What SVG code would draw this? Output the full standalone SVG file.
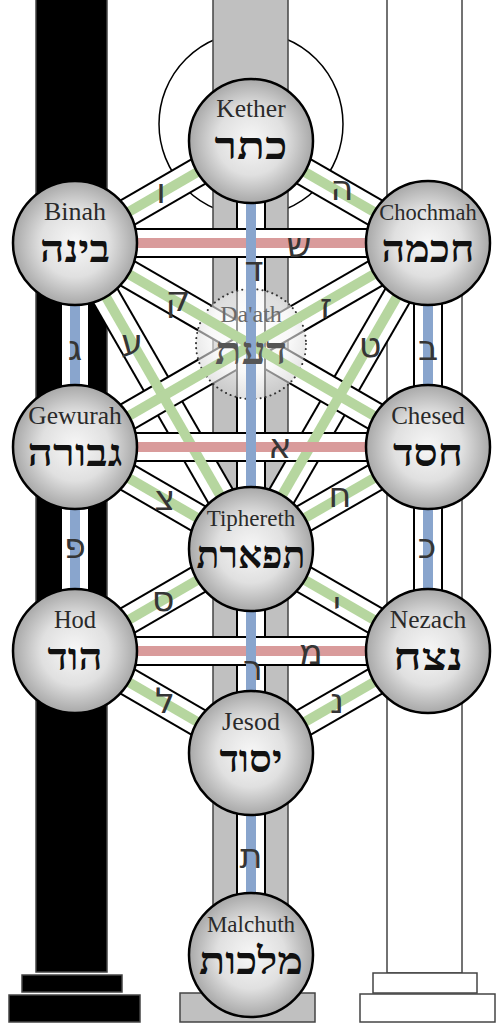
<svg xmlns="http://www.w3.org/2000/svg" width="502" height="1024" viewBox="0 0 502 1024">
<defs>
<radialGradient id="sph" cx="50%" cy="50%" r="50%">
<stop offset="0" stop-color="#f7f7f7"/>
<stop offset="0.55" stop-color="#e0e0e0"/>
<stop offset="1" stop-color="#a8a8a8"/>
</radialGradient>
<radialGradient id="dth" cx="50%" cy="40%" r="60%">
<stop offset="0" stop-color="#fff"/>
<stop offset="0.6" stop-color="#f4f4f4"/>
<stop offset="1" stop-color="#cfcfcf"/>
</radialGradient>
<line id="l-kb" x1="251" y1="141" x2="75" y2="243"/>
<line id="l-kc" x1="251" y1="141" x2="428" y2="243"/>
<line id="l-bt" x1="75" y1="243" x2="251" y2="549"/>
<line id="l-ct" x1="428" y1="243" x2="251" y2="549"/>
<line id="l-bch" x1="75" y1="243" x2="428" y2="447"/>
<line id="l-cg" x1="428" y1="243" x2="75" y2="447"/>
<line id="l-gt" x1="75" y1="447" x2="251" y2="549"/>
<line id="l-cht" x1="428" y1="447" x2="251" y2="549"/>
<line id="l-th" x1="251" y1="549" x2="75" y2="651"/>
<line id="l-tn" x1="251" y1="549" x2="428" y2="651"/>
<line id="l-hj" x1="75" y1="651" x2="251" y2="753"/>
<line id="l-nj" x1="428" y1="651" x2="251" y2="753"/>
<line id="l-bg" x1="75" y1="243" x2="75" y2="447"/>
<line id="l-cch" x1="428" y1="243" x2="428" y2="447"/>
<line id="l-kt" x1="251" y1="141" x2="251" y2="549"/>
<line id="l-gh" x1="75" y1="447" x2="75" y2="651"/>
<line id="l-chn" x1="428" y1="447" x2="428" y2="651"/>
<line id="l-tj" x1="251" y1="549" x2="251" y2="753"/>
<line id="l-jm" x1="251" y1="753" x2="251" y2="955"/>
<line id="l-bc" x1="75" y1="243" x2="428" y2="243"/>
<line id="l-gc" x1="75" y1="447" x2="428" y2="447"/>
<line id="l-hn" x1="75" y1="651" x2="428" y2="651"/>
</defs>
<style>
.bk{stroke:#000;stroke-width:30}
.wh{stroke:#fff;stroke-width:26}
.g{stroke:#b6d69f;stroke-width:10}
.r{stroke:#d99b9b;stroke-width:10}
.b{stroke:#89a5cd;stroke-width:10}
.sph{fill:url(#sph);stroke:#000;stroke-width:2.5}
.en{font-family:"Liberation Serif",serif;font-size:24px;fill:#2a2a2a;text-anchor:middle}
.he{font-family:"Liberation Serif","DejaVu Sans",serif;font-size:38px;font-weight:bold;fill:#111;text-anchor:middle}
.lt{font-family:"DejaVu Sans","Liberation Sans",sans-serif;font-size:35px;fill:#353535;text-anchor:middle}
.pil{stroke:#444;stroke-width:1.5}
</style>
<rect width="502" height="1024" fill="#fff"/>
<g id="pillars">
<circle id="kether-halo" cx="251" cy="124" r="92" fill="none" stroke="#000" stroke-width="1.5"/>
<g id="black-pillar" fill="#000" class="pil">
<rect x="36" y="-2" width="71" height="974"/>
<rect x="22" y="975" width="100" height="17"/>
<rect x="9" y="995" width="131" height="27"/>
</g>
<g id="middle-pillar" fill="#c0c0c0" class="pil">
<rect x="213" y="-2" width="75" height="995"/>
<rect x="180" y="993" width="135" height="29"/>
</g>
<g id="white-pillar" fill="#fff" class="pil">
<rect x="387" y="-2" width="75" height="975"/>
<rect x="373" y="973" width="104" height="20"/>
<rect x="360" y="994" width="135" height="28"/>
</g>
</g>
<g id="connectors">
<g id="bands">
<use href="#l-kb" class="bk"/><use href="#l-kb" class="wh"/>
<use href="#l-kc" class="bk"/><use href="#l-kc" class="wh"/>
<use href="#l-bt" class="bk"/><use href="#l-bt" class="wh"/>
<use href="#l-ct" class="bk"/><use href="#l-ct" class="wh"/>
<use href="#l-bch" class="bk"/><use href="#l-bch" class="wh"/>
<use href="#l-cg" class="bk"/><use href="#l-cg" class="wh"/>
<use href="#l-gt" class="bk"/><use href="#l-gt" class="wh"/>
<use href="#l-cht" class="bk"/><use href="#l-cht" class="wh"/>
<use href="#l-th" class="bk"/><use href="#l-th" class="wh"/>
<use href="#l-tn" class="bk"/><use href="#l-tn" class="wh"/>
<use href="#l-hj" class="bk"/><use href="#l-hj" class="wh"/>
<use href="#l-nj" class="bk"/><use href="#l-nj" class="wh"/>
<use href="#l-bg" class="bk"/><use href="#l-bg" class="wh"/>
<use href="#l-cch" class="bk"/><use href="#l-cch" class="wh"/>
<use href="#l-kt" class="bk"/><use href="#l-kt" class="wh"/>
<use href="#l-gh" class="bk"/><use href="#l-gh" class="wh"/>
<use href="#l-chn" class="bk"/><use href="#l-chn" class="wh"/>
<use href="#l-tj" class="bk"/><use href="#l-tj" class="wh"/>
<use href="#l-jm" class="bk"/><use href="#l-jm" class="wh"/>
<use href="#l-bc" class="bk"/><use href="#l-bc" class="wh"/>
<use href="#l-gc" class="bk"/><use href="#l-gc" class="wh"/>
<use href="#l-hn" class="bk"/><use href="#l-hn" class="wh"/>
</g>
<circle id="daath-veil" cx="251" cy="344" r="55" fill="url(#dth)" fill-opacity="0.6" stroke="#333" stroke-width="2" stroke-dasharray="0.1 5" stroke-linecap="round"/>
<g id="stripes">
<use href="#l-kb" class="g"/><use href="#l-kc" class="g"/>
<use href="#l-bt" class="g"/><use href="#l-ct" class="g"/>
<use href="#l-bch" class="g"/><use href="#l-cg" class="g"/>
<use href="#l-gt" class="g"/><use href="#l-cht" class="g"/>
<use href="#l-th" class="g"/><use href="#l-tn" class="g"/>
<use href="#l-hj" class="g"/><use href="#l-nj" class="g"/>
<use href="#l-bc" class="r"/><use href="#l-gc" class="r"/><use href="#l-hn" class="r"/>
<use href="#l-bg" class="b"/><use href="#l-cch" class="b"/><use href="#l-kt" class="b"/>
<use href="#l-gh" class="b"/><use href="#l-chn" class="b"/><use href="#l-tj" class="b"/><use href="#l-jm" class="b"/>
</g>
<g id="path-letters" class="lt">
<text x="161" y="203">ו</text>
<text x="342" y="200">ה</text>
<text x="299" y="257">ש</text>
<text x="254" y="281">ד</text>
<text x="178" y="311">ק</text>
<text x="326" y="318">ז</text>
<text x="132" y="354">ע</text>
<text x="370" y="357">ט</text>
<text x="75" y="360">ג</text>
<text x="428" y="360">ב</text>
<text x="280" y="458">א</text>
<text x="165" y="510">צ</text>
<text x="340" y="507">ח</text>
<text x="75" y="558">פ</text>
<text x="427" y="558">כ</text>
<text x="163" y="611">ס</text>
<text x="337" y="616">י</text>
<text x="311" y="664">מ</text>
<text x="253" y="680">ר</text>
<text x="165" y="713">ל</text>
<text x="337" y="713">נ</text>
<text x="251" y="868">ת</text>
</g>
</g>
<g id="daath">
<text class="en" x="251" y="322" style="fill:#6a6a6a;font-size:24px">Da'ath</text>
<text class="he" x="251" y="364" style="fill:#555" textLength="72" lengthAdjust="spacingAndGlyphs">דעת</text>
</g>
<g id="kether"><circle class="sph" cx="251" cy="141" r="62"/><text class="en" x="251" y="117" style="font-size:25.5px">Kether</text><text class="he" x="251" y="159" textLength="73" lengthAdjust="spacingAndGlyphs">כתר</text></g>
<g id="binah"><circle class="sph" cx="75" cy="243" r="62"/><text class="en" x="75" y="220" style="font-size:26px">Binah</text><text class="he" x="75" y="262" textLength="70" lengthAdjust="spacingAndGlyphs">בינה</text></g>
<g id="chochmah"><circle class="sph" cx="428" cy="243" r="62"/><text class="en" x="428" y="220" style="font-size:22.5px">Chochmah</text><text class="he" x="428" y="262" textLength="93" lengthAdjust="spacingAndGlyphs">חכמה</text></g>
<g id="gewurah"><circle class="sph" cx="75" cy="447" r="62"/><text class="en" x="75" y="424" style="font-size:25.5px">Gewurah</text><text class="he" x="75" y="466" textLength="95" lengthAdjust="spacingAndGlyphs">גבורה</text></g>
<g id="chesed"><circle class="sph" cx="428" cy="447" r="62"/><text class="en" x="428" y="424" style="font-size:25px">Chesed</text><text class="he" x="428" y="466" textLength="70" lengthAdjust="spacingAndGlyphs">חסד</text></g>
<g id="tiphereth"><circle class="sph" cx="251" cy="549" r="62"/><text class="en" x="251" y="526" style="font-size:23px">Tiphereth</text><text class="he" x="251" y="568" textLength="109" lengthAdjust="spacingAndGlyphs">תפארת</text></g>
<g id="hod"><circle class="sph" cx="75" cy="651" r="62"/><text class="en" x="75" y="628" style="font-size:24.5px">Hod</text><text class="he" x="75" y="670" textLength="55" lengthAdjust="spacingAndGlyphs">הוד</text></g>
<g id="nezach"><circle class="sph" cx="428" cy="651" r="62"/><text class="en" x="428" y="628" style="font-size:25.5px">Nezach</text><text class="he" x="428" y="670" textLength="70" lengthAdjust="spacingAndGlyphs">נצח</text></g>
<g id="jesod"><circle class="sph" cx="251" cy="753" r="62"/><text class="en" x="251" y="730" style="font-size:26px">Jesod</text><text class="he" x="251" y="772" textLength="63" lengthAdjust="spacingAndGlyphs">יסוד</text></g>
<g id="malchuth"><circle class="sph" cx="251" cy="955" r="62"/><text class="en" x="251" y="932" style="font-size:23px">Malchuth</text><text class="he" x="251" y="974" textLength="104" lengthAdjust="spacingAndGlyphs">מלכות</text></g>
</svg>
